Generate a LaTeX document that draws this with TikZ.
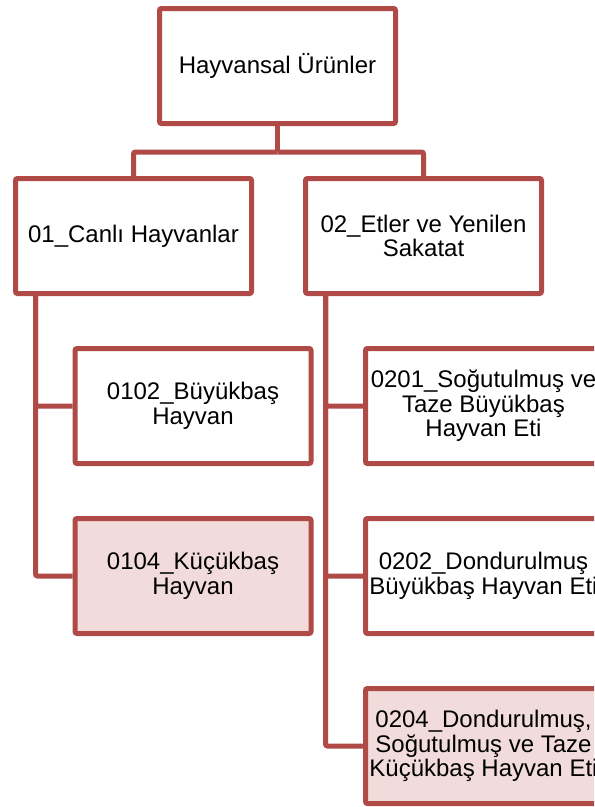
\documentclass[tikz,border=0pt]{standalone}
\usepackage{fontspec}
\setmainfont{Liberation Sans}
\usetikzlibrary{shapes,arrows}
\definecolor{linkred}{RGB}{176,74,71}
\definecolor{palered}{RGB}{242,220,219}
\tikzstyle{box} = [rectangle, draw=linkred, line width=3.75pt, rounded corners=1.5pt, fill=white, minimum width=177pt, minimum height=86.25pt, align=center, inner sep=0pt, font=\fontsize{18}{18.4}\selectfont]
\tikzstyle{boxhl} = [box, fill=palered]
\tikzstyle{link} = [draw=linkred, line width=3.75pt, rounded corners=1.5pt]

\begin{document}
\begin{tikzpicture}[x=0.75pt, y=-0.75pt]
                        \useasboundingbox (0,0) rectangle (594,807);
                        \clip (0,0) rectangle (594,807);
                        % boxes
                        \node[box] (root) at (277.5,66) {Hayvansal Ürünler};
                        \node[box] (canli) at (133.5,236) {01\_Canlı Hayvanlar};
                        \node[box] (etler) at (423.5,236) {02\_Etler ve Yenilen \\ Sakatat};
                        \node[box] (buyuk) at (193,406) {0102\_Büyükbaş \\ Hayvan};
                        \node[boxhl] (kucuk) at (193,576) {0104\_Küçükbaş \\ Hayvan};
                        \node[box] (sogtaze) at (483.5,406) {0201\_Soğutulmuş ve \\ Taze Büyükbaş \\ Hayvan Eti};
                        \node[box] (donbuyuk) at (483.5,576) {0202\_Dondurulmuş \\ Büyükbaş Hayvan Eti};
                        \node[boxhl] (donkucuk) at (483.5,746) {0204\_Dondurulmuş, \\ Soğutulmuş ve Taze \\ Küçükbaş Hayvan Eti};
                        % connectors
                        \coordinate (bus) at (277.5,152);
                        \coordinate (trunkA) at ([xshift=16.875pt]canli.south west);
                        \coordinate (trunkB) at ([xshift=16.875pt]etler.south west);
                        \draw[link] (root.south) -- (bus);
                        \draw[link] (bus) -| (canli.north);
                        \draw[link] (bus) -| (etler.north);
                        \draw[link] (trunkA) |- (buyuk.west);
                        \draw[link] (trunkA) |- (kucuk.west);
                        \draw[link] (trunkB) |- (sogtaze.west);
                        \draw[link] (trunkB) |- (donbuyuk.west);
                        \draw[link] (trunkB) |- (donkucuk.west);
                    \end{tikzpicture}
\end{document}
